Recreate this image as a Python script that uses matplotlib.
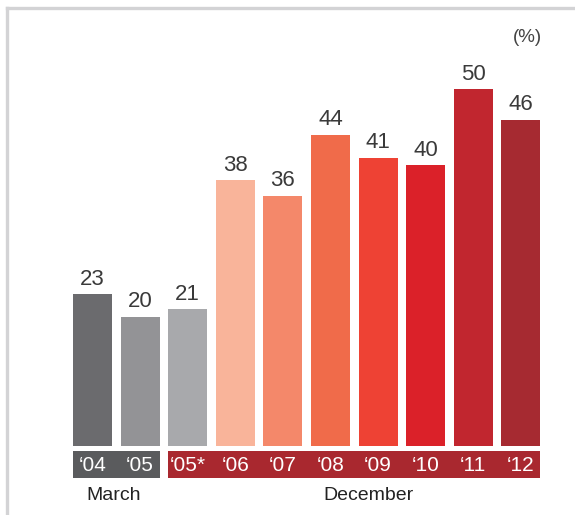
import matplotlib
matplotlib.use("Agg")
import matplotlib.pyplot as plt
from matplotlib.lines import Line2D

categories = ["\u201804", "\u201805", "\u201805*", "\u201806", "\u201807", "\u201808", "\u201809", "\u201810", "\u201811", "\u201812"]
values = [23, 20, 21, 38, 36, 44, 41, 40, 50, 46]
colors = ["#6b6b6e", "#939396", "#a8a9ac", "#f9b49a", "#f4886a", "#f06b4a",
          "#ee4234", "#db2129", "#c1262f", "#a62a31"]
groups = [("March", 0, 1, "#5a5b5d"), ("December", 2, 9, "#a9282f")]

plt.rcParams['font.family'] = ['Liberation Sans', 'DejaVu Sans']

W, H = 575, 515
fig = plt.figure(figsize=(W / 100, H / 100), dpi=100)
fig.patch.set_facecolor("white")

def fx(px):
    return px / W

def fy(py):
    return 1 - py / H

step = 47.6
left_px = 73 - 0.09 * step
ax_w = 10 * step
ax_bottom = 446
ymin, ymax = 3, 57
ax_h = (ymax - ymin) * 7.59
ax = fig.add_axes([fx(left_px), fy(ax_bottom), fx(ax_w), ax_h / H])
x = list(range(len(values)))
ax.bar(x, values, width=0.82, color=colors)
for xi, v in zip(x, values):
    ax.text(xi, v + 0.6, str(v), ha="center", va="bottom", fontsize=16, color="#3a3a3a")
ax.set_xlim(-0.5, 9.5)
ax.set_ylim(ymin, ymax)
ax.axis("off")

# band axes
bax = fig.add_axes([fx(left_px), fy(478), fx(ax_w), 27 / H])
bax.set_xlim(-0.5, 9.5)
bax.set_ylim(0, 1)
bax.axis("off")
for name, i0, i1, col in groups:
    bax.barh(0.5, (i1 + 0.41) - (i0 - 0.41), left=i0 - 0.41, height=1, color=col)
for xi, c in zip(x, categories):
    bax.text(xi, 0.45, c, ha="center", va="center", fontsize=15, color="white")
offsets = {"March": -0.05, "December": 0.3}
for name, i0, i1, col in groups:
    bax.text((i0 + i1) / 2 + offsets[name], -0.65, name, ha="center", va="center",
             fontsize=14, color="#222222")

fig.text(fx(527), fy(37), "(%)", ha="center", va="center", fontsize=13.5, color="#444444")

# frame
fig.add_artist(Line2D([fx(7), 1], [fy(8), fy(8)], color="#d3d3d5", lw=2.4))
fig.add_artist(Line2D([fx(7), fx(7)], [fy(8), 0], color="#d3d3d5", lw=2.4))

fig.savefig("out.png", dpi=100)
